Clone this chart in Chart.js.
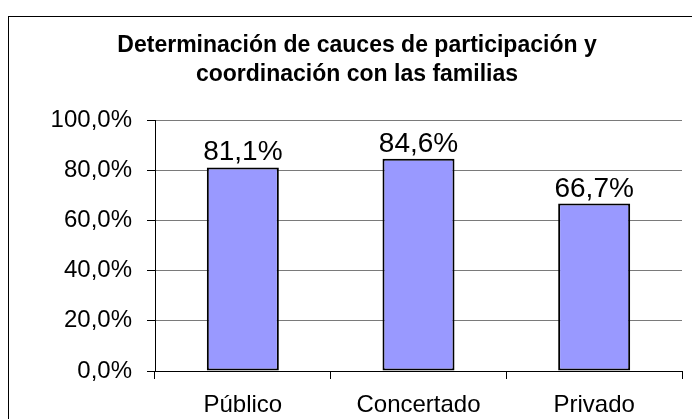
<!DOCTYPE html>
<html><head><meta charset="utf-8">
<script src="https://cdn.jsdelivr.net/npm/chart.js@4.4.1/dist/chart.umd.min.js"></script>
<style>html,body{margin:0;padding:0;background:#fff;overflow:hidden}canvas{display:block}</style>
</head><body>
<canvas id="c" width="692" height="419"></canvas>
<script>
const categories = ['Público', 'Concertado', 'Privado'];
const values = [81.1, 84.6, 66.7];
const yTicks = [0, 20, 40, 60, 80, 100];
const titleLines = ['Determinación de cauces de participación y', 'coordinación con las familias'];
const FONT = '"Liberation Sans", Arial, sans-serif';
const fmt = v => v.toFixed(1).replace('.', ',') + '%';

const framePlugin = {
  id: 'frame',
  beforeDraw(chart) {
    const ctx = chart.ctx;
    ctx.save();
    ctx.fillStyle = '#fff';
    ctx.fillRect(0, 0, chart.width, chart.height);
    ctx.strokeStyle = '#000';
    ctx.lineWidth = 1;
    ctx.strokeRect(8.5, 16.5, chart.width + 40, chart.height + 40);
    ctx.restore();
  }
};
const labelPlugin = {
  id: 'vals',
  afterDatasetsDraw(chart) {
    const ctx = chart.ctx;
    const meta = chart.getDatasetMeta(0);
    ctx.save();
    ctx.font = '28px ' + FONT;
    ctx.fillStyle = '#000';
    ctx.textAlign = 'center';
    ctx.textBaseline = 'alphabetic';
    meta.data.forEach((bar, i) => {
      ctx.fillText(fmt(values[i]), bar.x, bar.y - 7);
    });
    ctx.restore();
  }
};

new Chart(document.getElementById('c'), {
  type: 'bar',
  data: {
    labels: categories,
    datasets: [{
      data: values,
      backgroundColor: '#9999FF',
      borderColor: '#000',
      borderWidth: 2,
      borderSkipped: false,
      categoryPercentage: 1,
      barPercentage: 0.41
    }]
  },
  options: {
    responsive: false,
    animation: false,
    devicePixelRatio: 1,
    layout: { padding: { left: 32, right: 10, top: 0, bottom: 0 } },
    plugins: {
      legend: { display: false },
      tooltip: { enabled: false },
      title: {
        display: true,
        text: titleLines,
        color: '#000',
        font: { family: FONT, size: 23, weight: 'bold', lineHeight: '29px' },
        padding: { top: 31.5, bottom: 30.5 }
      }
    },
    scales: {
      x: {
        grid: { display: true, drawOnChartArea: false, drawTicks: true, tickLength: 8, color: '#000', offset: true },
        border: { display: true, color: '#000', width: 1 },
        ticks: { color: '#000', padding: 12, font: { family: FONT, size: 24 }, maxRotation: 0 },
        afterFit(scale) { scale.height = 48; }
      },
      y: {
        min: 0,
        max: 100,
        afterBuildTicks(scale) { scale.ticks = yTicks.map(v => ({ value: v })); },
        grid: { color: '#7a7a7a', tickColor: '#000', lineWidth: 1, drawTicks: true, tickLength: 8 },
        border: { display: true, color: '#000', width: 1 },
        ticks: { color: '#000', padding: 15, font: { family: FONT, size: 24 }, callback: v => fmt(v) },
        afterFit(scale) { scale.width = 123; }
      }
    }
  },
  plugins: [framePlugin, labelPlugin]
});
</script>
</body></html>
